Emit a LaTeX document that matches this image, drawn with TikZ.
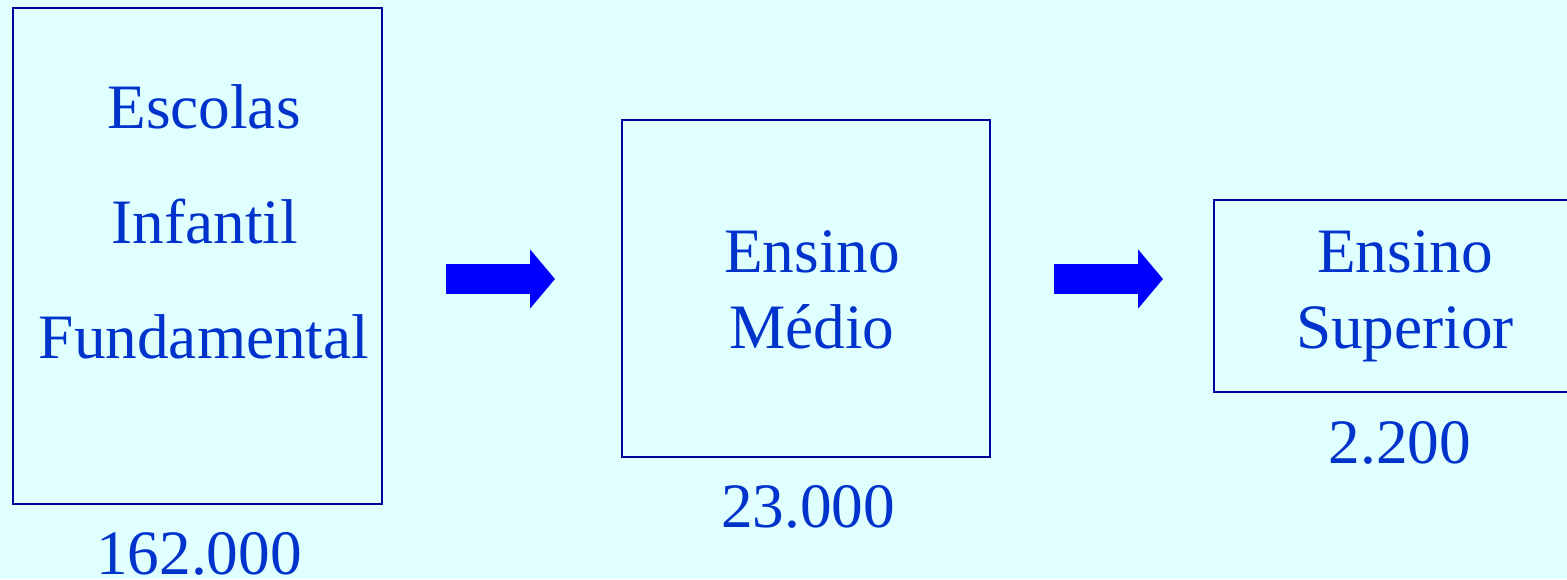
\documentclass[tikz,border=0pt]{standalone}
\usepackage{fontspec}
\setmainfont{Liberation Serif}
\usetikzlibrary{arrows.meta}
\definecolor{bgcyan}{HTML}{E0FFFF}
\definecolor{boxline}{HTML}{00009C}
\definecolor{txtblue}{HTML}{0033CC}
\definecolor{arrblue}{HTML}{0000FF}
\tikzset{
  box/.style={draw=boxline, line width=0.4mm, inner sep=0pt, anchor=north west},
  lbl/.style={text=txtblue, font=\fontsize{36}{40}\selectfont, inner sep=0pt, anchor=base},
  fat/.style={arrblue, line width=6mm, -{Triangle[length=5mm,width=11.6mm]}},
}

\begin{document}
\begin{tikzpicture}[x=0.2mm,y=-0.2mm]
\fill[bgcyan] (0,0) rectangle (1567,579);
\useasboundingbox (0,0) rectangle (1567,579);
\clip (0,0) rectangle (1567,579);

% the three boxes
\node[box, minimum width=73.8mm, minimum height=99.2mm] (infantil) at (12,7) {};
\node[box, minimum width=73.6mm, minimum height=67.4mm] (medio) at (621,119) {};
\node[box, minimum width=73.8mm, minimum height=38.4mm] (superior) at (1213,199) {};

% texts
\node[lbl] (esc) at (204,128) {Escolas};
\node[lbl] (inf) at (205,243) {Infantil};
\node[lbl] (fund) at (204,358) {Fundamental};
\node[lbl] (ens1) at (812,272) {Ensino};
\node[lbl] (med) at (812,348) {Médio};
\node[lbl] (ens2) at (1405,272) {Ensino};
\node[lbl] (sup) at (1405,348) {Superior};

\node[lbl] (n1) at (199,574) {162.000};
\node[lbl] (n2) at (808,527) {23.000};
\node[lbl] (n3) at (1400,463) {2.200};

% arrows
\coordinate (a1s) at (446,279);
\coordinate (a1e) at (555,279);
\coordinate (a2s) at (1054,279);
\coordinate (a2e) at (1163,279);
\draw[fat] (a1s) -- (a1e);
\draw[fat] (a2s) -- (a2e);
\end{tikzpicture}
\end{document}
